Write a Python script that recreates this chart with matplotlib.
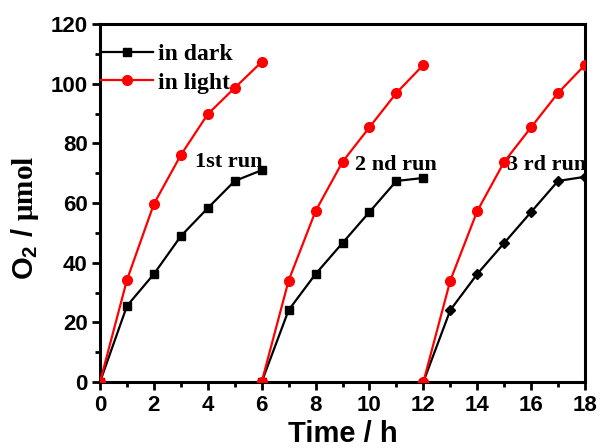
import matplotlib.pyplot as plt
import numpy as np

# hours within each 6 h cycle
t_run = np.array([0, 1, 2, 3, 4, 5, 6])
run_starts = [0, 6, 12]
run_labels = ['1st run', '2 nd run', '3 rd run']
label_pos = [(3.53, 72.0), (9.47, 71.0), (15.1, 71.0)]

dark = [
    [0, 25.5, 36.2, 48.9, 58.3, 67.4, 71.0],
    [0, 24.1, 36.2, 46.6, 57.0, 67.4, 68.4],
    [0, 24.1, 36.2, 46.6, 57.0, 67.4, 68.8],
]
light = [
    [0, 34.2, 59.7, 76.1, 89.8, 98.6, 107.3],
    [0, 34.0, 57.3, 73.8, 85.4, 96.9, 106.3],
    [0, 34.0, 57.3, 73.8, 85.4, 96.9, 106.3],
]
dark_markers = ['s', 's', 'D']

plt.rcParams['font.family'] = ['Liberation Sans', 'DejaVu Sans']
plt.rcParams['font.weight'] = 'bold'
plt.rcParams['mathtext.fontset'] = 'custom'
plt.rcParams['mathtext.rm'] = 'Liberation Sans:bold'
plt.rcParams['mathtext.bf'] = 'Liberation Serif:bold'

fig = plt.figure(figsize=(6.01, 4.48), dpi=100)
ax = fig.add_axes([0.1664, 0.1473, 0.807, 0.799])

for i, t0 in enumerate(run_starts):
    t = t_run + t0
    ax.plot(t, dark[i], '-', color='black', marker=dark_markers[i],
            markersize=6 if dark_markers[i] == 's' else 5.5, linewidth=1.6,
            label='in dark' if i == 0 else None, zorder=3)
    ax.plot(t, light[i], '-', color='#ff0000', marker='o', markersize=7,
            linewidth=1.6, label='in light' if i == 0 else None, zorder=4)

# run annotations
for txt, (x, y) in zip(run_labels, label_pos):
    ax.text(x, y, txt, family='Liberation Serif', fontweight='bold', fontsize=16)

ax.set_xlim(0, 18)
ax.set_ylim(0, 120)
ax.set_xticks(np.arange(0, 19, 2))
ax.set_yticks(np.arange(0, 121, 20))
ax.set_xticks(np.arange(0, 19, 1), minor=True)
ax.set_yticks(np.arange(0, 121, 10), minor=True)
ax.tick_params(which='major', direction='out', length=6, width=2, labelsize=16, pad=3)
ax.tick_params(which='minor', direction='out', length=3.5, width=2)
for s in ax.spines.values():
    s.set_linewidth(2.2)

ax.set_xlabel('Time / h', fontsize=21, fontweight='bold', labelpad=3)
ax.set_ylabel('O$_\\mathrm{2}$ / $\\mathbf{μmol}$', fontsize=21, fontweight='bold')
ax.yaxis.set_label_coords(-0.122, 0.46)

leg = ax.legend(loc='upper left', bbox_to_anchor=(-0.042, 1.005), frameon=False,
                numpoints=1, handlelength=2.2, handletextpad=0.2, labelspacing=0.3,
                prop={'family': 'Liberation Serif', 'weight': 'bold', 'size': 17})

fig.savefig('out.png', dpi=100)
